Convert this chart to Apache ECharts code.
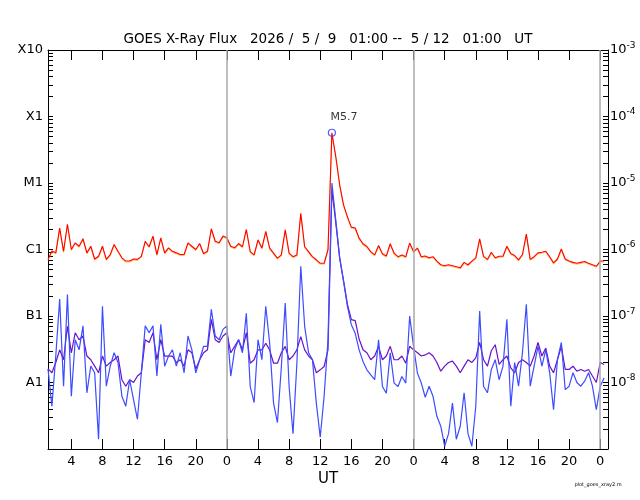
<!DOCTYPE html>
<html><head><meta charset="utf-8">
<script src="https://cdn.jsdelivr.net/npm/echarts@6/dist/echarts.min.js"></script>
<style>html,body{margin:0;padding:0;background:#fff}#c{width:640px;height:500px}</style>
</head><body><div id="c"></div>
<script>
// ---- data (GOES X-ray flux, W/m^2), one sample every 0.5 h from 2026/5/9 01:00 ----
const titleText = 'GOES X-Ray Flux   2026 /  5 /  9   01:00 --  5 / 12   01:00   UT';
const stepHours = 0.5;
const red = [7.1e-7,9.5e-7,8.9e-7,2.1e-6,9.4e-7,2.4e-6,1.0e-6,1.26e-6,1.12e-6,1.45e-6,
 8.9e-7,1.12e-6,7.2e-7,7.9e-7,1.12e-6,7.1e-7,8.4e-7,1.19e-6,9.4e-7,7.5e-7,
 6.7e-7,6.7e-7,7.2e-7,7.1e-7,7.9e-7,1.33e-6,1.1e-6,1.59e-6,8.4e-7,1.5e-6,
 8.9e-7,1.06e-6,9.4e-7,8.9e-7,8.4e-7,8.4e-7,1.26e-6,1.12e-6,1.0e-6,1.23e-6,
 8.7e-7,9.4e-7,2.05e-6,1.33e-6,1.26e-6,1.59e-6,1.5e-6,1.12e-6,1.06e-6,1.23e-6,
 1.1e-6,2.0e-6,9.3e-7,8.3e-7,1.4e-6,1.05e-6,1.87e-6,1.05e-6,8.8e-7,7.4e-7,
 8.3e-7,1.98e-6,8.8e-7,7.8e-7,8.3e-7,3.5e-6,1.1e-6,9.3e-7,7.8e-7,7.0e-7,
 6.2e-7,6.2e-7,1.0e-6,5.7e-5,2.5e-5,9.4e-6,4.7e-6,3.1e-6,2.17e-6,2.1e-6,
 1.48e-6,1.22e-6,1.11e-6,9.3e-7,8.3e-7,1.15e-6,8.6e-7,8.0e-7,1.22e-6,8.8e-7,
 7.8e-7,8.3e-7,7.8e-7,1.25e-6,9.3e-7,1.05e-6,7.8e-7,8.0e-7,7.5e-7,7.8e-7,
 6.7e-7,5.9e-7,5.7e-7,5.9e-7,5.7e-7,5.5e-7,5.3e-7,6.4e-7,5.9e-7,6.7e-7,
 7.5e-7,1.45e-6,7.9e-7,7.1e-7,9.1e-7,7.5e-7,7.9e-7,7.9e-7,1.12e-6,8.7e-7,
 8.1e-7,7.0e-7,8.4e-7,1.7e-6,7.1e-7,7.8e-7,8.9e-7,9.1e-7,9.4e-7,7.8e-7,
 6.3e-7,7.2e-7,1.02e-6,7.2e-7,6.7e-7,6.4e-7,6.2e-7,6.4e-7,6.6e-7,6.2e-7,
 5.9e-7,5.6e-7,6.7e-7,6.7e-7];
const blue = [1.6e-8,4.4e-9,2.5e-8,1.8e-7,8.8e-9,2.1e-7,6.2e-9,4.4e-8,3.1e-8,7.1e-8,
 7.0e-9,1.76e-8,1.4e-8,1.4e-9,1.4e-7,8.8e-9,1.76e-8,2.8e-8,2.0e-8,6.2e-9,
 4.4e-9,1.1e-8,5.5e-9,2.8e-9,1.4e-8,7.1e-8,5.6e-8,7.1e-8,1.25e-8,7.5e-8,
 1.76e-8,2.5e-8,3.1e-8,1.76e-8,2.8e-8,1.4e-8,5.0e-8,3.1e-8,1.4e-8,2.2e-8,
 3.5e-8,3.5e-8,1.26e-7,5.0e-8,4.4e-8,6.3e-8,7.1e-8,1.25e-8,3.1e-8,4.4e-8,
 2.8e-8,1.1e-7,8.7e-9,5.0e-9,4.4e-8,2.2e-8,1.4e-7,3.9e-8,4.9e-9,2.5e-9,
 1.7e-8,1.57e-7,8.7e-9,1.7e-9,1.95e-8,5.6e-7,7.0e-8,2.8e-8,2.2e-8,4.9e-9,
 1.5e-9,6.2e-9,4.4e-8,1.0e-5,2.8e-6,7.5e-7,3.3e-7,1.4e-7,7.4e-8,5.5e-8,
 3.1e-8,2.07e-8,1.55e-8,1.3e-8,1.1e-8,4.4e-8,8.7e-9,6.9e-9,2.8e-8,9.8e-9,
 8.7e-9,1.23e-8,9.8e-9,1.0e-7,3.5e-8,1.38e-8,9.8e-9,6.0e-9,8.8e-9,6.2e-9,
 3.1e-9,2.2e-9,1.1e-9,1.7e-9,4.9e-9,1.4e-9,2.2e-9,7.0e-9,1.7e-9,1.1e-9,
 4.4e-9,1.19e-7,8.8e-9,7.0e-9,1.57e-8,2.2e-8,1.1e-8,1.76e-8,8.9e-8,4.4e-9,
 2.0e-8,8.8e-9,2.8e-8,1.5e-7,8.8e-9,1.76e-8,3.5e-8,1.76e-8,3.1e-8,1.4e-8,
 3.9e-9,2.2e-8,4.0e-8,7.8e-9,8.8e-9,1.4e-8,1.0e-8,8.8e-9,1.05e-8,1.4e-8,
 8.8e-9,3.9e-9,8.8e-9,1.17e-8];
const purple = [1.6e-8,1.4e-8,2.0e-8,3.1e-8,2.2e-8,7.0e-8,2.8e-8,5.6e-8,4.4e-8,5.0e-8,
 2.5e-8,2.2e-8,1.76e-8,1.4e-8,2.5e-8,1.76e-8,2.0e-8,2.2e-8,2.5e-8,1.1e-8,
 8.8e-9,1.1e-8,1.0e-8,1.25e-8,1.4e-8,4.4e-8,4.0e-8,5.6e-8,2.2e-8,4.4e-8,
 2.5e-8,2.5e-8,2.5e-8,2.0e-8,2.2e-8,1.76e-8,3.1e-8,2.8e-8,1.6e-8,2.2e-8,
 2.8e-8,3.1e-8,8.9e-8,4.4e-8,4.0e-8,5.0e-8,5.6e-8,2.8e-8,3.5e-8,4.4e-8,
 3.1e-8,5.6e-8,1.95e-8,2.2e-8,3.1e-8,3.1e-8,3.9e-8,3.1e-8,1.95e-8,1.95e-8,
 2.8e-8,3.5e-8,2.2e-8,2.5e-8,3.1e-8,4.9e-8,3.1e-8,2.5e-8,2.2e-8,1.4e-8,
 1.55e-8,1.74e-8,3.1e-8,8.0e-6,2.5e-6,7.5e-7,3.4e-7,1.5e-7,8.8e-8,8.5e-8,
 4.5e-8,3.1e-8,2.8e-8,2.2e-8,2.5e-8,3.5e-8,2.2e-8,2.5e-8,3.5e-8,2.2e-8,
 2.2e-8,2.5e-8,1.95e-8,3.5e-8,3.1e-8,2.8e-8,2.5e-8,2.6e-8,2.8e-8,2.5e-8,
 2.0e-8,1.48e-8,1.76e-8,2.0e-8,2.1e-8,1.76e-8,1.4e-8,1.76e-8,2.2e-8,2.0e-8,
 2.35e-8,4.0e-8,2.2e-8,1.76e-8,3.0e-8,3.7e-8,1.87e-8,2.2e-8,2.5e-8,1.66e-8,
 1.4e-8,2.0e-8,2.2e-8,2.0e-8,1.76e-8,2.5e-8,4.0e-8,2.5e-8,3.3e-8,1.76e-8,
 1.4e-8,2.2e-8,3.5e-8,1.57e-8,1.57e-8,1.76e-8,1.48e-8,1.57e-8,1.48e-8,1.57e-8,
 1.25e-8,1.0e-8,2.0e-8,1.87e-8];
const hourTicks = [3,7,11,15,19,23,27,31,35,39,43,47,51,55,59,63,67,71];
const dayBoundaries = [23,47,71];
const classLines = [1e-8,1e-7,1e-6,1e-5,1e-4];
const labelValues = [1e-8,1e-7,1e-6,1e-5,1e-4,1e-3];
const classNames = {'-8':'A1','-7':'B1','-6':'C1','-5':'M1','-4':'X1','-3':'X10'};
const flareLabel = 'M5.7';

// ---- build ----
const FONT = 'DejaVu Sans';
const minorTicks = [];
for (let d = -9; d <= -4; d++) for (let k = 1; k <= 9; k++) minorTicks.push(k * Math.pow(10, d));
minorTicks.push(1e-3);
const pairs = arr => arr.map((v, i) => [i * stepHours, v]);
let peakI = 0; red.forEach((v, i) => { if (v > red[peakI]) peakI = i; });
const exp = v => Math.round(Math.log10(v));

const chart = echarts.init(document.getElementById('c'), null, {renderer: 'canvas'});
const xBase = {type: 'value', min: 0, max: 72, splitLine: {show: false},
  axisLine: {show: true, onZero: false, lineStyle: {color: '#000', width: 1}},
  axisTick: {show: true, inside: true, length: 10, customValues: hourTicks, lineStyle: {color: '#000', width: 1}}};
const yBase = {type: 'log', logBase: 10, min: 1e-9, max: 1e-3, splitLine: {show: false}, minorTick: {show: false},
  axisLine: {show: true, onZero: false, lineStyle: {color: '#000', width: 1}},
  axisTick: {show: true, inside: true, length: 5, customValues: minorTicks, lineStyle: {color: '#000', width: 1}}};

chart.setOption({
  animation: false,
  backgroundColor: '#fff',
  grid: {left: 48, top: 50, width: 560, height: 399, containLabel: false},
  xAxis: [
    Object.assign({}, xBase, {position: 'bottom',
      axisLabel: {customValues: hourTicks, formatter: v => String((Math.round(v) + 1) % 24),
        fontSize: 13, color: '#000', margin: 6, fontFamily: FONT}}),
    Object.assign({}, xBase, {position: 'top', axisLabel: {show: false}})
  ],
  yAxis: [
    Object.assign({}, yBase, {position: 'left',
      axisLabel: {customValues: labelValues, formatter: v => classNames[String(exp(v))] || '',
        fontSize: 13, color: '#000', margin: 5, fontFamily: FONT}}),
    Object.assign({}, yBase, {position: 'right',
      axisLabel: {customValues: labelValues, formatter: v => '{b|10}{s|' + exp(v) + '}',
        margin: 2, color: '#000', fontFamily: FONT,
        rich: {b: {fontSize: 13, color: '#000', fontFamily: FONT},
               s: {fontSize: 9, color: '#000', fontFamily: FONT, padding: [0, 0, 9, 0]}}}})
  ],
  series: [
    {type: 'line', name: 'short2', data: pairs(purple), showSymbol: false, z: 2,
     lineStyle: {color: '#6a12c8', width: 1.2}},
    {type: 'line', name: 'short', data: pairs(blue), showSymbol: false, z: 3,
     lineStyle: {color: '#3c4cff', width: 1.2}},
    {type: 'line', name: 'long', data: pairs(red), showSymbol: false, z: 4,
     lineStyle: {color: '#ff0000', width: 1.1, shadowColor: 'rgba(255,160,0,0.6)', shadowBlur: 0, shadowOffsetY: 1}},
    {type: 'scatter', name: 'peak', data: [[peakI * stepHours, red[peakI]]], z: 6,
     symbol: 'circle', symbolSize: 7,
     itemStyle: {color: 'rgba(255,255,255,0)', borderColor: '#2232ff', borderWidth: 1.2},
     label: {show: true, formatter: flareLabel, position: 'top', offset: [12, -1], fontSize: 11,
       color: '#000', fontFamily: FONT}},
    {type: 'line', name: 'grid', data: [[0, 1e-6]], showSymbol: false, z: 5,
     lineStyle: {opacity: 0},
     markLine: {silent: true, symbol: 'none', animation: false, label: {show: false},
       data: classLines.map(v => ({yAxis: v, lineStyle: {color: '#5ab2f2', width: 1.2, type: 'solid'}}))
         .concat(dayBoundaries.map(h => ({xAxis: h, lineStyle: {color: '#aaaaaa', width: 1.5, type: 'solid'}})))}}
  ],
  graphic: [
    {type: 'text', x: 328, y: 39, style: {text: titleText, fontSize: 13.5, fontFamily: FONT,
      fill: '#000', align: 'center', verticalAlign: 'middle'}},
    {type: 'text', x: 328, y: 479, style: {text: 'UT', fontSize: 15, fontFamily: FONT, fill: '#000',
      align: 'center', verticalAlign: 'middle'}},
    {type: 'text', x: 598, y: 485, style: {text: 'plot_goes_xray2.m', fontSize: 5, fontFamily: FONT, fill: '#000',
      align: 'center', verticalAlign: 'middle'}}
  ]
});
</script></body></html>
